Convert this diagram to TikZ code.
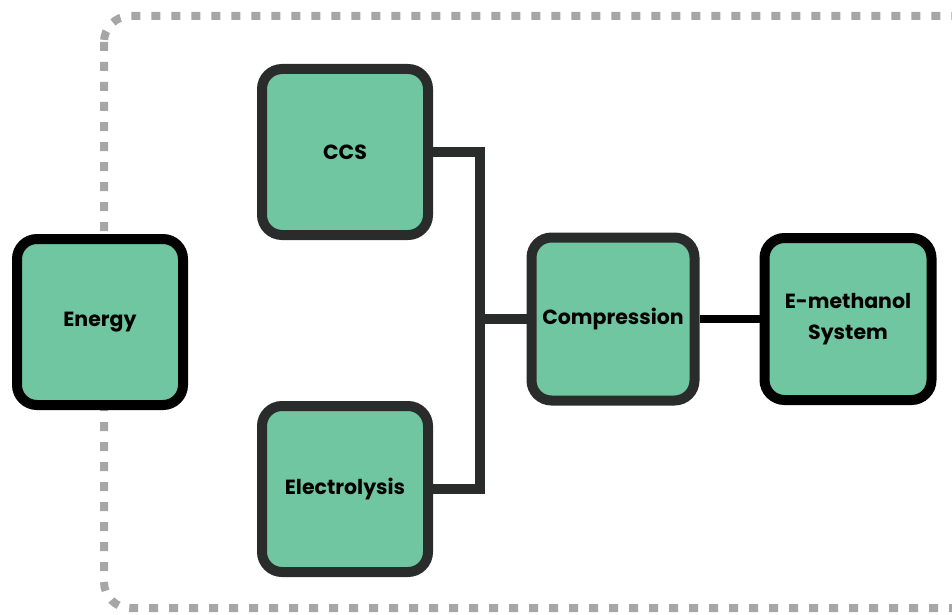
\documentclass[tikz,border=0pt]{standalone}
\usepackage{fontspec}
\setmainfont{Poppins}
\usepackage{xcolor}
\usepackage{tikz}
\usetikzlibrary{positioning,calc}

\definecolor{boxgreen}{HTML}{6FC6A0}
\definecolor{darkline}{HTML}{2A2C2B}
\definecolor{frame}{HTML}{A6A6A6}

\begin{document}
\begin{tikzpicture}[x=1pt, y=-1pt,
  unit/.style={rectangle, draw=darkline, fill=boxgreen, line width=10pt, rounded corners=20pt, minimum width=166pt, minimum height=166pt, align=center, font=\fontsize{20.5}{31}\selectfont\bfseries},
  outer/.style={unit, draw=black},
  link/.style={draw=darkline, line width=10pt},
  every node/.style={inner sep=2pt}
]
\clip (0,0) rectangle (952,615);

\draw[frame, line width=8pt, dash pattern=on 9pt off 11pt, rounded corners=26pt] (104,16) rectangle (1000,608);

\node[outer] (energy) at (100,322) {Energy};

\node[unit] (ccs) at (345,152) {CCS};
\node[unit] (elec) at (345,489) {Electrolysis};
\node[unit, minimum width=163pt, minimum height=163pt] (comp) at (613,319) {Compression};
\node[outer, minimum width=167pt, minimum height=162pt] (emeth) at (848,319) {E-methanol\\System};

\coordinate (junction) at (480,319);

\draw[link] (ccs.east) -| (junction) |- (elec.east);
\draw[link] (junction) -- (comp.west);
\draw[line width=8pt] (comp.east) -- (emeth.west);

\end{tikzpicture}
\end{document}
